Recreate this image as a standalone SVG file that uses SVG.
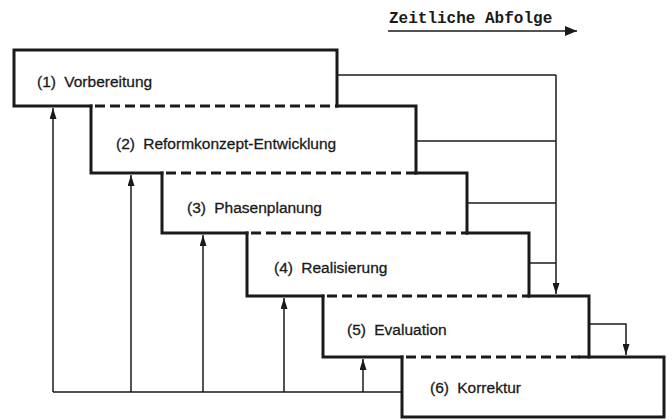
<svg xmlns="http://www.w3.org/2000/svg" width="672" height="420" viewBox="0 0 672 420">
<defs>
<marker id="arr" viewBox="0 0 11 7" refX="11" refY="3.5" markerWidth="11" markerHeight="7" markerUnits="userSpaceOnUse" orient="auto">
<path d="M0,0 L11,3.5 L0,7 Z" fill="#1a1a1a"/>
</marker>
<marker id="arrBig" viewBox="0 0 12 10" refX="12" refY="5" markerWidth="12" markerHeight="10" markerUnits="userSpaceOnUse" orient="auto">
<path d="M0,0 L12,5 L0,10 Z" fill="#1a1a1a"/>
</marker>
</defs>
<style>
.edge{fill:none;stroke:#1a1a1a;stroke-width:3;stroke-linecap:square;stroke-linejoin:miter}
.dash{fill:none;stroke:#1a1a1a;stroke-width:3;stroke-dasharray:10 5}
.conn{fill:none;stroke:#1a1a1a;stroke-width:1.5}
.lbl{font-family:"Liberation Sans",Arial,sans-serif;font-size:15.5px;fill:#1a1a1a;stroke:#1a1a1a;stroke-width:0.3;word-spacing:4px}
.title{font-family:"Liberation Mono","Courier New",monospace;font-size:16px;font-weight:bold;fill:#1a1a1a}
</style>
<rect width="672" height="420" fill="#ffffff"/>

<g id="title">
<text class="title" x="389" y="23">Zeitliche Abfolge</text>
<line class="conn" x1="388" y1="31" x2="577" y2="31" stroke-width="2" marker-end="url(#arrBig)"/>
</g>

<g id="node1">
<path class="edge" d="M91,106 L14,106 L14,50 L337,50 L337,106"/>
<line class="dash" x1="95" y1="106" x2="337" y2="106"/>
<text class="lbl" x="37" y="87">(1) Vorbereitung</text>
</g>

<g id="node2">
<path class="edge" d="M337,106 L416,106 L416,173"/>
<path class="edge" d="M91,106 L91,173 L162,173"/>
<line class="dash" x1="166" y1="173" x2="416" y2="173"/>
<text class="lbl" x="116" y="149">(2) Reformkonzept-Entwicklung</text>
</g>

<g id="node3">
<path class="edge" d="M416,173 L467,173 L467,233"/>
<path class="edge" d="M162,173 L162,233 L247,233"/>
<line class="dash" x1="251" y1="233" x2="467" y2="233"/>
<text class="lbl" x="187" y="213">(3) Phasenplanung</text>
</g>

<g id="node4">
<path class="edge" d="M467,233 L529,233 L529,296"/>
<path class="edge" d="M247,233 L247,296 L323,296"/>
<line class="dash" x1="327" y1="296" x2="529" y2="296"/>
<text class="lbl" x="274" y="273">(4) Realisierung</text>
</g>

<g id="node5">
<path class="edge" d="M529,296 L589,296 L589,357"/>
<path class="edge" d="M323,296 L323,357 L402,357"/>
<line class="dash" x1="406" y1="357" x2="580" y2="357"/>
<text class="lbl" x="347" y="335">(5) Evaluation</text>
</g>

<g id="node6">
<path class="edge" d="M580,357 L664,357 L664,417 L402,417 L402,357"/>
<text class="lbl" x="430" y="393">(6) Korrektur</text>
</g>

<g id="connectors">
<polyline class="conn" points="53,392 402,392"/>
<line class="conn" x1="53" y1="392" x2="53" y2="108" marker-end="url(#arr)"/>
<line class="conn" x1="131" y1="392" x2="131" y2="175" marker-end="url(#arr)"/>
<line class="conn" x1="203" y1="392" x2="203" y2="235" marker-end="url(#arr)"/>
<line class="conn" x1="284" y1="392" x2="284" y2="298" marker-end="url(#arr)"/>
<line class="conn" x1="363" y1="392" x2="363" y2="359" marker-end="url(#arr)"/>
<line class="conn" x1="337" y1="75" x2="556" y2="75"/>
<line class="conn" x1="416" y1="141" x2="556" y2="141"/>
<line class="conn" x1="467" y1="203" x2="556" y2="203"/>
<line class="conn" x1="529" y1="263" x2="556" y2="263"/>
<line class="conn" x1="556" y1="75" x2="556" y2="294" marker-end="url(#arr)"/>
<polyline class="conn" points="589,324 626,324 626,355" marker-end="url(#arr)"/>
</g>
</svg>
